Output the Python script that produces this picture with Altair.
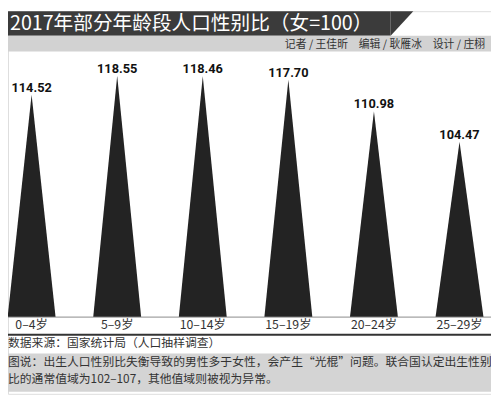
import altair as alt
import pandas as pd

# ---- data ----
categories = ["0–4岁", "5–9岁", "10–14岁", "15–19岁", "20–24岁", "25–29岁"]
ratios = [114.52, 118.55, 118.46, 117.70, 110.98, 104.47]
value_labels = ["114.52", "118.55", "118.46", "117.70", "110.98", "104.47"]

title_text = "2017年部分年龄段人口性别比（女=100）"
credit_text = "记者 / 王佳昕　编辑 / 耿雁冰　设计 / 庄栩"
source_text = "数据来源：国家统计局（人口抽样调查）"
caption_line1 = "图说：出生人口性别比失衡导致的男性多于女性，会产生“光棍”问题。联合国认定出生性别"
caption_line2 = "比的通常值域为102–107，其他值域则被视为异常。"

BASE = 67.0        # value at the bottom of the spikes (scale floor)
HALF = 0.28        # half base width of each spike, in category units

W, H = 491, 389
FONT = "Noto Sans CJK SC"

# ---- tables built from the arrays ----
rows = []
for i, (c, v) in enumerate(zip(categories, ratios)):
    rows.append({"cat": c, "pos": i - HALF, "val": BASE, "base": BASE})
    rows.append({"cat": c, "pos": i, "val": v, "base": BASE})
    rows.append({"cat": c, "pos": i + HALF, "val": BASE, "base": BASE})
tri = pd.DataFrame(rows)

pts = pd.DataFrame({"idx": list(range(len(categories))), "cat": categories,
                    "val": ratios, "lab": value_labels})
one = pd.DataFrame({"_": [0]})

xs = alt.Scale(domain=[0, len(categories) - 1], range=[24, 459])
ys = alt.Scale(domain=[BASE, 125], range=[311, 35])

spikes = alt.Chart(tri).mark_area(color="#232323", opacity=1).encode(
    x=alt.X("pos:Q", scale=xs, axis=None),
    y=alt.Y("val:Q", scale=ys, axis=None),
    y2="base:Q",
    detail="cat:N",
)

vals = alt.Chart(pts).mark_text(
    font="Roboto", fontWeight="bold", fontSize=13, color="#111",
    baseline="alphabetic", dy=-3,
).encode(
    x=alt.X("idx:Q", scale=xs, axis=None),
    y=alt.Y("val:Q", scale=ys, axis=None),
    text="lab:N",
)

xlabels = alt.Chart(pts).mark_text(
    font=FONT, fontSize=12.5, color="#333", baseline="middle",
).encode(
    x=alt.X("idx:Q", scale=xs, axis=None),
    y=alt.value(319),
    text="cat:N",
)

# ---- decorations ----
title_bar = alt.Chart(one).mark_rect(color="#3b3b3b").encode(
    x=alt.value(0), x2=alt.value(389), y=alt.value(0), y2=alt.value(25))
wedge = alt.Chart(one).mark_point(
    shape="M-1,-1L0.84,-1L-1,1Z", filled=True, opacity=1, color="#3b3b3b",
    strokeWidth=0, size=625,
).encode(x=alt.value(401.5), y=alt.value(12.5))
title = alt.Chart(one).mark_text(
    text=title_text, font=FONT, fontSize=20, color="white", align="left",
    baseline="middle",
).encode(x=alt.value(2), y=alt.value(13))

credit_band = alt.Chart(one).mark_rect(color="#d2d2d2").encode(
    x=alt.value(0), x2=alt.value(W), y=alt.value(25), y2=alt.value(41))
credit = alt.Chart(one).mark_text(
    text=credit_text, font=FONT, fontSize=11, color="#333", align="right",
    baseline="middle",
).encode(x=alt.value(485), y=alt.value(34))

base_rule = alt.Chart(one).mark_rule(color="#8a8a8a", strokeWidth=1).encode(
    x=alt.value(0), x2=alt.value(W), y=alt.value(311))
dark_rule = alt.Chart(one).mark_rule(color="#333", strokeWidth=2).encode(
    x=alt.value(0), x2=alt.value(W), y=alt.value(329))

source = alt.Chart(one).mark_text(
    text=source_text, font=FONT, fontSize=12, color="#333", align="left",
    baseline="middle",
).encode(x=alt.value(0), y=alt.value(337))

cap_box = alt.Chart(one).mark_rect(color="#d4d4d4").encode(
    x=alt.value(0), x2=alt.value(W), y=alt.value(348), y2=alt.value(387))
cap1 = alt.Chart(one).mark_text(
    text=caption_line1, font=FONT, fontSize=12, color="#333", align="left",
    baseline="middle",
).encode(x=alt.value(0), y=alt.value(357))
cap2 = alt.Chart(one).mark_text(
    text=caption_line2, font=FONT, fontSize=12, color="#333", align="left",
    baseline="middle",
).encode(x=alt.value(0), y=alt.value(374))

chart = alt.layer(
    title_bar, wedge, title, credit_band, credit,
    spikes, vals, base_rule, xlabels, dark_rule, source, cap_box, cap1, cap2,
).properties(
    width=W, height=H, padding=0,
    autosize=alt.AutoSizeParams(type="none"),
).configure_view(stroke=None).configure(background="white")

chart.save("out.html", embed_options={"renderer": "svg", "actions": False})
